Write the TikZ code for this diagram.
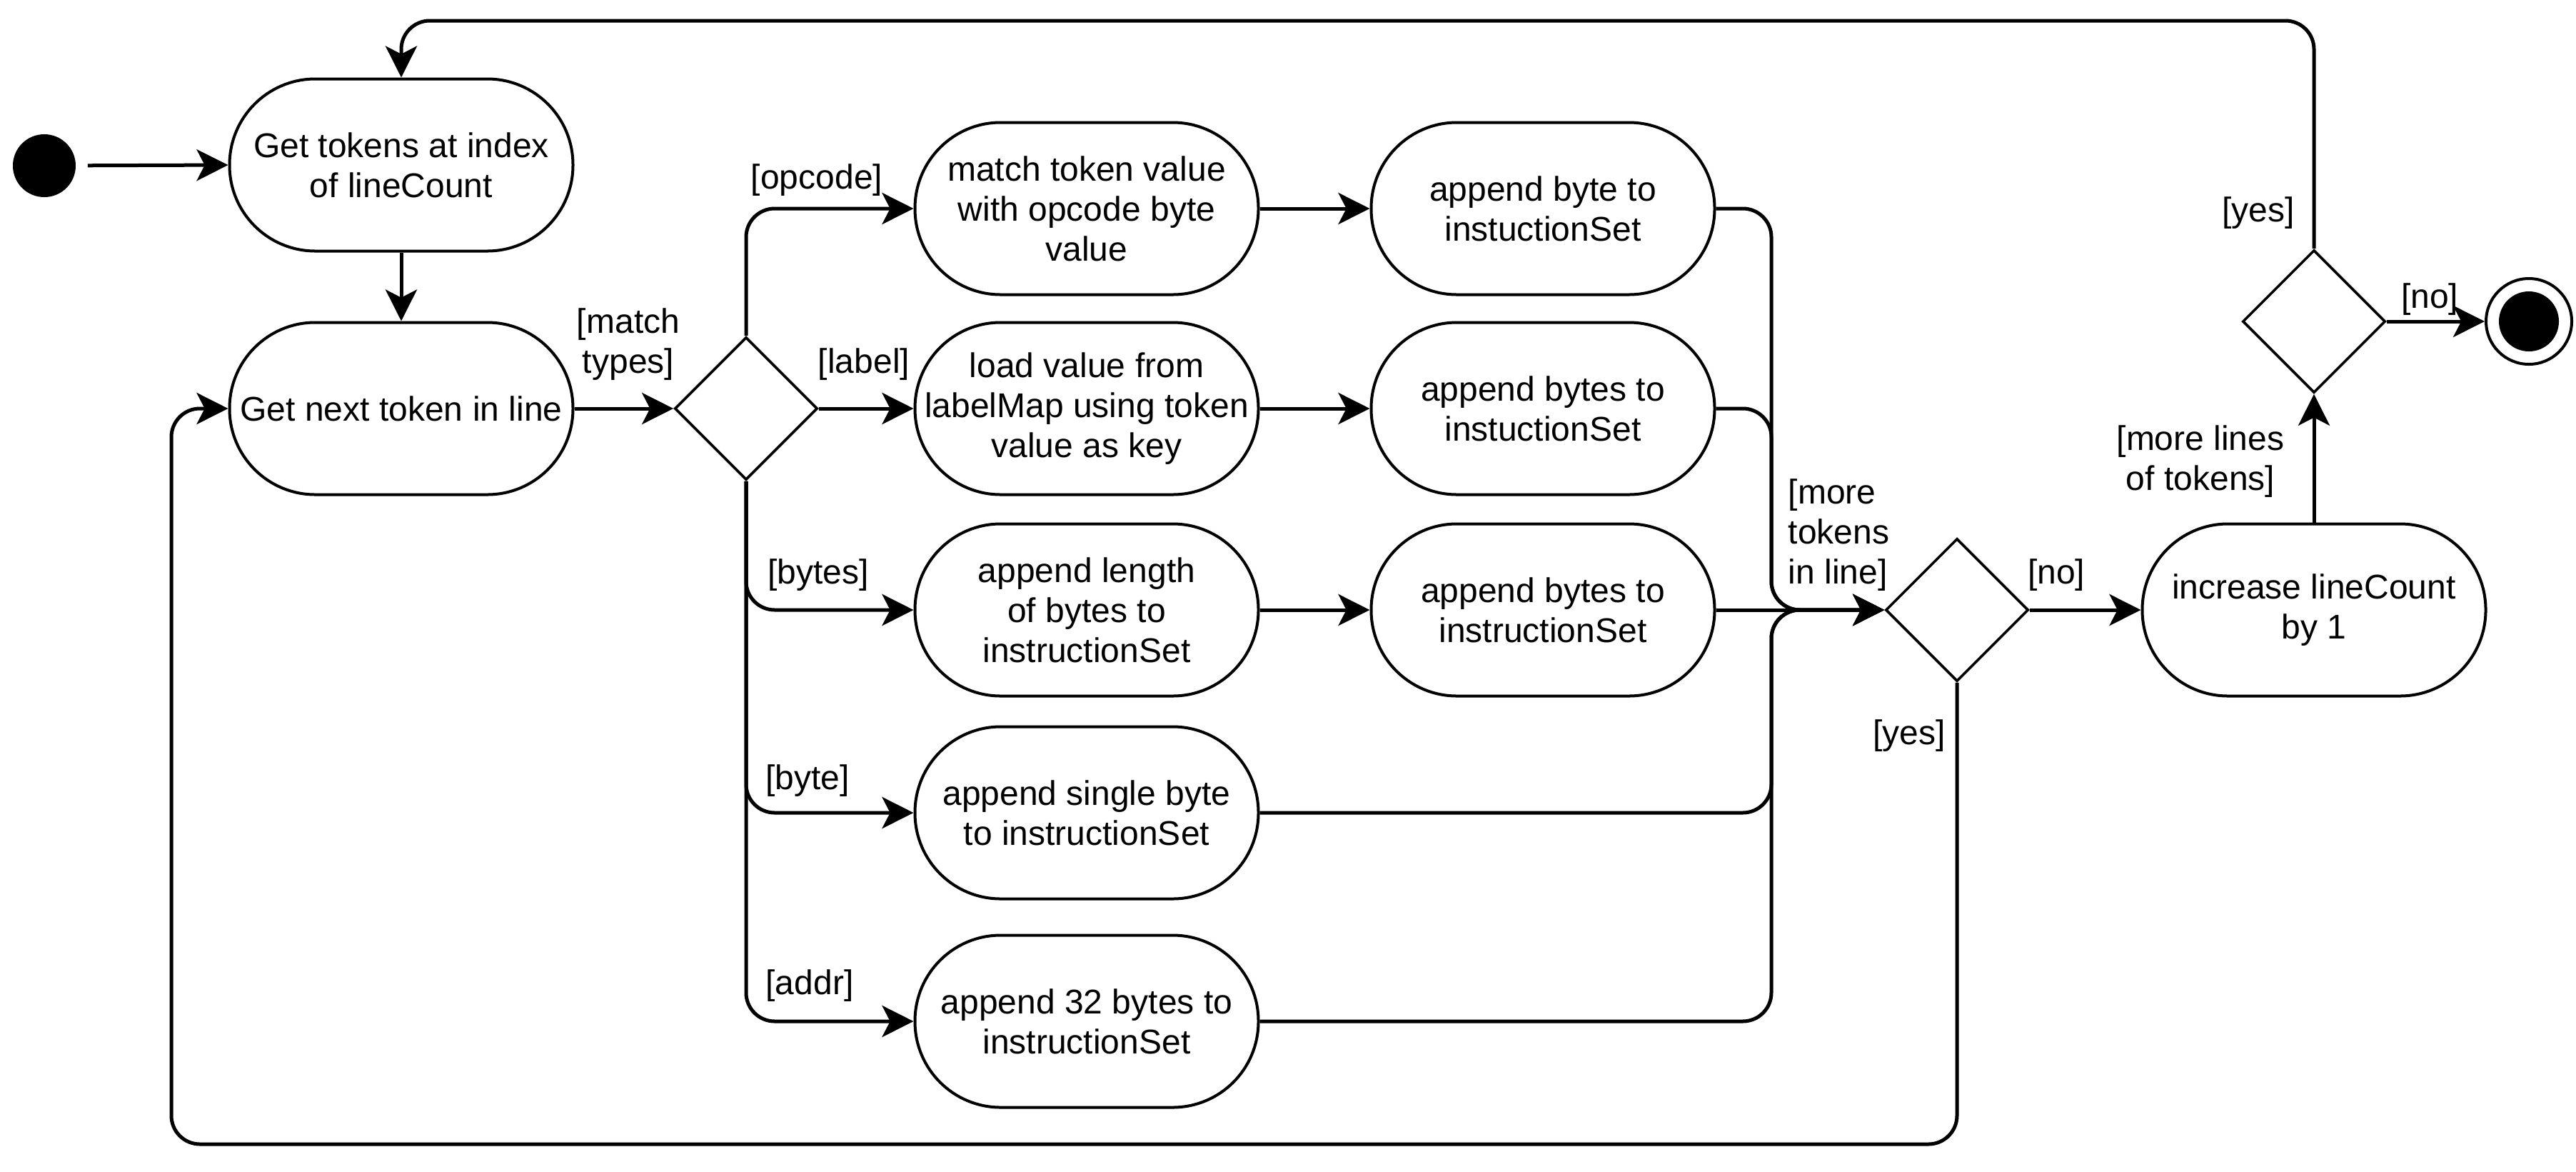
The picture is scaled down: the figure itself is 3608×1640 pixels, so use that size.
\documentclass[tikz,border=0pt]{standalone}
\usepackage{fontspec}
\setmainfont{Liberation Sans}
\usetikzlibrary{shapes.geometric,arrows.meta}
\begin{document}
\begin{tikzpicture}[x=0.25pt,y=-0.25pt,
  every node/.style={font=\fontsize{12pt}{14pt}\selectfont},
  act/.style={draw, line width=1pt, fill=white, rounded corners=30pt, minimum width=120.25pt, minimum height=60.25pt, align=center, inner sep=0pt},
  dec/.style={draw, line width=0.9pt, fill=white, diamond, aspect=1, minimum width=50pt, minimum height=50pt, inner sep=0pt},
  guard/.style={inner sep=0pt, align=center},
  arr/.style={line width=1.25pt, -{Stealth[length=11pt,width=11pt,inset=2.8pt]}, rounded corners=10pt},
]
\useasboundingbox (0,0) rectangle (3608,1640);

% nodes
\node[circle, fill=black, minimum size=22pt, inner sep=0pt] (start) at (62,232) {};
\node[act] (box1) at (562,231) {Get tokens at index\\of lineCount};
\node[act] (box2) at (562,572) {Get next token in line};
\node[dec] (d1) at (1045,572) {};

\node[act] (A1) at (1522,292) {match token value\\with opcode byte\\value};
\node[act] (A2) at (1522,572) {load value from\\labelMap using token\\value as key};
\node[act] (A3) at (1522,854) {append length\\of bytes to\\instructionSet};
\node[act] (A4) at (1522,1138) {append single byte\\to instructionSet};
\node[act] (A5) at (1522,1430) {append 32 bytes to\\instructionSet};

\node[act] (B1) at (2161,292) {append byte to\\instuctionSet};
\node[act] (B2) at (2161,572) {append bytes to\\instuctionSet};
\node[act] (B3) at (2161,854) {append bytes to\\instructionSet};

\node[dec] (d2) at (2741,854) {};
\node[act] (C) at (3241,854) {increase lineCount\\by 1};
\node[dec] (d3) at (3241,450) {};
\node[circle, draw, line width=1pt, fill=white, minimum size=30pt, inner sep=0pt] (end) at (3542,450) {};
\fill (end.center) circle (10.5pt);

% connectors
\draw[arr, shorten <=4pt] (start) -- (box1.west);
\draw[arr] (box1.south) -- (box2.north);
\draw[arr] (box2.east) -- (d1.west);
\draw[arr] (d1.north) |- (A1.west);
\draw[arr] (d1.east) -- (A2.west);
\draw[arr] (d1.south) |- (A3.west);
\draw[arr] (d1.south) |- (A4.west);
\draw[arr] (d1.south) |- (A5.west);
\draw[arr] (A1.east) -- (B1.west);
\draw[arr] (A2.east) -- (B2.west);
\draw[arr] (A3.east) -- (B3.west);

\draw[arr] (B1.east) -- (2481,292) -- (2481,854) -- (d2.west);
\draw[arr] (B2.east) -- (2481,572) -- (2481,854) -- (d2.west);
\draw[arr] (A4.east) -- (2481,1138) -- (2481,854) -- (d2.west);
\draw[arr] (A5.east) -- (2481,1430) -- (2481,854) -- (d2.west);
\draw[arr] (B3.east) -- (d2.west);

\draw[arr] (d2.east) -- (C.west);
\draw[arr] (d2.south) |- (240,1602) |- (box2.west);
\draw[arr] (C.north) -- (d3.south);
\draw[arr] (d3.east) -- (end.west);
\draw[arr] (d3.north) |- (562,29) -- (box1.north);

% guards
\node[guard] (gmatch) at (880,482) {[match\\types]};
\node[guard] (gopcode) at (1144,252) {[opcode]};
\node[guard] (glabel) at (1210,510) {[label]};
\node[guard] (gbytes) at (1146,805) {[bytes]};
\node[guard] (gbyte) at (1131,1093) {[byte]};
\node[guard] (gaddr) at (1134,1380) {[addr]};
\node[guard, align=left, anchor=west] (gmore) at (2504,749) {[more\\tokens\\in line]};
\node[guard] (gno1) at (2880,805) {[no]};
\node[guard] (gyes1) at (2674,1030) {[yes]};
\node[guard] (gmorelines) at (3082,646) {[more lines\\of tokens]};
\node[guard] (gyes2) at (3163,298) {[yes]};
\node[guard] (gno2) at (3403,419) {[no]};
\end{tikzpicture}
\end{document}
